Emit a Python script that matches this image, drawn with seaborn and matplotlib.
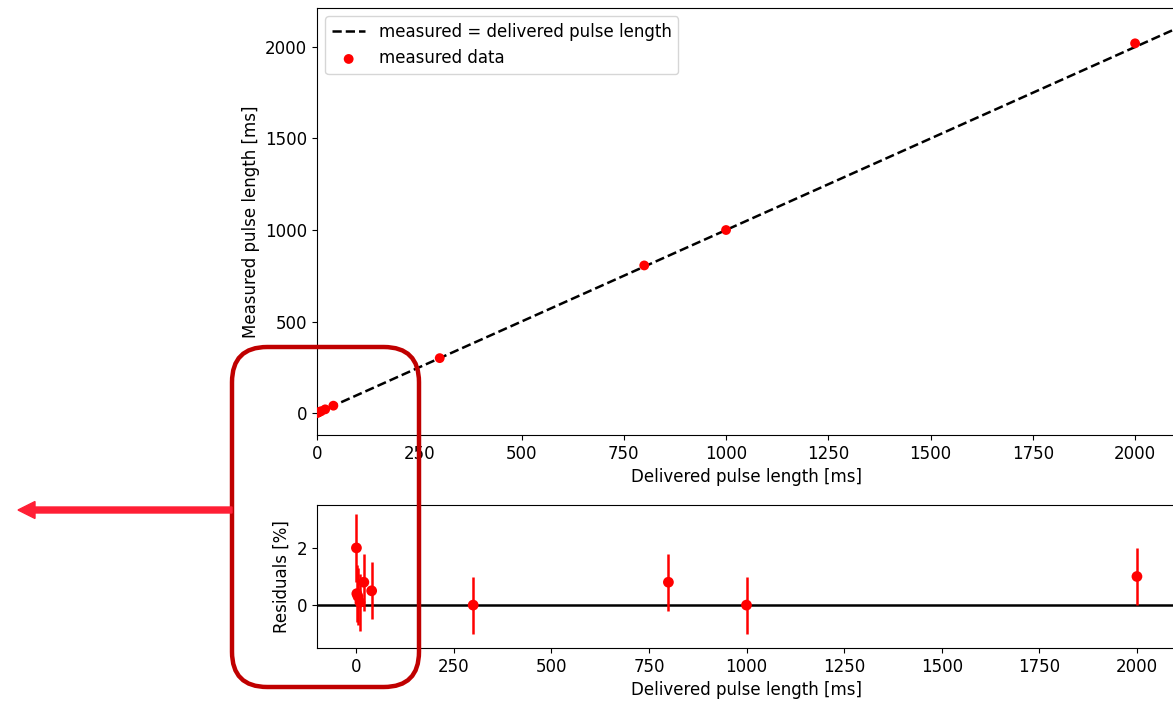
import matplotlib
matplotlib.use("Agg")
import matplotlib.pyplot as plt
import seaborn as sns
import pandas as pd
from matplotlib.patches import FancyBboxPatch, FancyArrow

# ---- data ----
delivered = [1, 2, 5, 10, 20, 40, 300, 800, 1000, 2000]
residuals = [2.0, 0.4, 0.3, 0.1, 0.8, 0.5, 0.0, 0.8, 0.0, 1.0]
residual_err = [1.2, 1.0, 1.0, 1.0, 1.0, 1.0, 1.0, 1.0, 1.0, 1.0]
measured = [d * (1 + r / 100) for d, r in zip(delivered, residuals)]
identity_x = [0, 2100]

sns.set_theme(style="ticks", rc={
    "axes.edgecolor": "black",
    "xtick.color": "black",
    "ytick.color": "black",
    "axes.labelcolor": "black",
    "text.color": "black",
    "font.size": 12,
    "axes.labelsize": 12,
    "xtick.labelsize": 12,
    "ytick.labelsize": 12,
    "legend.fontsize": 12,
    "axes.linewidth": 0.8,
    "xtick.major.size": 3.5,
    "ytick.major.size": 3.5,
    "xtick.major.width": 0.8,
    "ytick.major.width": 0.8,
    "xtick.major.pad": 3.5,
    "ytick.major.pad": 3.5,
})
plt.rcParams["font.family"] = ["DejaVu Sans"]

fig = plt.figure(figsize=(11.73, 7.02), dpi=100)
W, H = 1173, 702
ax1 = fig.add_axes([317 / W, 1 - 435 / H, (1176 - 317) / W, (435 - 8) / H])
ax2 = fig.add_axes([317 / W, 1 - 648 / H, (1176 - 317) / W, (648 - 505) / H])

df = pd.DataFrame({"delivered": delivered, "measured": measured,
                   "residual": residuals, "err": residual_err})
line_df = pd.DataFrame({"x": identity_x, "y": identity_x})

sns.lineplot(data=line_df, x="x", y="y", ax=ax1, color="black", linestyle="--",
             linewidth=1.8, label="measured = delivered pulse length")
sns.scatterplot(data=df, x="delivered", y="measured", ax=ax1, color="red",
                s=50, edgecolor="none", label="measured data", zorder=3)
ax1.set_xlim(0, 2100)
ax1.set_ylim(-120, 2213)
ax1.set_xticks([0, 250, 500, 750, 1000, 1250, 1500, 1750, 2000])
ax1.set_yticks([0, 500, 1000, 1500, 2000])
ax1.set_xlabel("Delivered pulse length [ms]")
ax1.set_ylabel("Measured pulse length [ms]")
ax1.legend(loc="upper left", frameon=True, fancybox=True, framealpha=0.8,
           edgecolor="#cccccc")

ax2.axhline(0, color="black", linewidth=1.8, zorder=1)
ax2.errorbar(df["delivered"], df["residual"], yerr=df["err"], fmt="none",
             ecolor="red", elinewidth=1.8, zorder=2)
sns.scatterplot(data=df, x="delivered", y="residual", ax=ax2, color="red",
                s=60, edgecolor="none", zorder=3)
ax2.set_xlim(-100, 2100)
ax2.set_ylim(-1.5, 3.5)
ax2.set_xticks([0, 250, 500, 750, 1000, 1250, 1500, 1750, 2000])
ax2.set_yticks([0, 2])
ax2.set_xlabel("Delivered pulse length [ms]")
ax2.set_ylabel("Residuals [%]")

# ---- annotation overlay ----
x0, y0, x1, y1 = 232, 347, 419, 687
box = FancyBboxPatch((x0 / W, 1 - y1 / H), (x1 - x0) / W, (y1 - y0) / H,
                     boxstyle="round,pad=0,rounding_size=0.03",
                     transform=fig.transFigure, fill=False,
                     edgecolor="#c00000", linewidth=3.2, zorder=10,
                     mutation_aspect=W / H)
fig.patches.append(box)
arrow = FancyArrow(232 / W, 1 - 510 / H, -(232 - 18) / W, 0,
                   width=6 / H, head_width=17 / H, head_length=17 / W,
                   length_includes_head=True, transform=fig.transFigure,
                   color="#ff1f35", zorder=10)
fig.patches.append(arrow)

fig.savefig("out.png", dpi=100)
